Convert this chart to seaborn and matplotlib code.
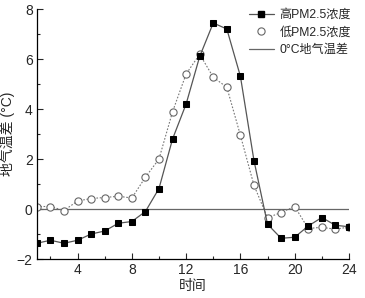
import seaborn as sns
import matplotlib.pyplot as plt
import pandas as pd
from matplotlib.lines import Line2D

hours = list(range(1, 25))
high_pm = [-1.36, -1.24, -1.36, -1.24, -0.99, -0.87, -0.56, -0.49, -0.09, 0.83,
           2.81, 4.21, 6.11, 7.45, 7.21, 5.32, 1.95, -0.60, -1.16, -1.12,
           -0.67, -0.33, -0.64, -0.70]
low_pm = [0.11, 0.11, -0.05, 0.33, 0.43, 0.47, 0.52, 0.45, 1.28, 2.01,
          3.90, 5.41, 6.20, 5.28, 4.88, 2.96, 0.96, -0.34, -0.13, 0.11,
          -0.77, -0.72, -0.80, -0.71]
labels = ['高PM2.5浓度', '低PM2.5浓度', '0°C地气温差']

df = pd.DataFrame({'hour': hours, 'high': high_pm, 'low': low_pm})

sns.set_style('white')
plt.rcParams['font.family'] = ['Liberation Sans', 'Noto Sans CJK SC', 'DejaVu Sans']

fig = plt.figure(figsize=(3.65, 2.98), dpi=100)
ax = fig.add_axes([0.101, 0.13, 0.855, 0.839])

ax.axhline(0, color='#666666', lw=0.9, zorder=1)

# low concentration: dotted line with hollow circles
sns.lineplot(x='hour', y='low', data=df, ax=ax, color='#777777', lw=0.8,
             linestyle=(0, (1.5, 1.5)), marker='o', markersize=5.2,
             markerfacecolor='white', markeredgecolor='#666666',
             markeredgewidth=0.8, zorder=2)

# high concentration: solid line with filled squares
sns.lineplot(x='hour', y='high', data=df, ax=ax, color='#555555', lw=0.9,
             marker='s', markersize=4.8, markerfacecolor='black',
             markeredgecolor='black', zorder=3)

ax.set_xlim(1, 24)
ax.set_ylim(-2, 8)
ax.set_xticks([4, 8, 12, 16, 20, 24])
ax.set_xticks(range(2, 25, 2), minor=True)
ax.set_yticks([-2, 0, 2, 4, 6, 8])
ax.set_yticks(range(-1, 8, 2), minor=True)
ax.tick_params(which='major', direction='in', length=4, width=0.8,
               labelsize=10, bottom=True, left=True, pad=3)
ax.tick_params(which='minor', direction='in', length=2, width=0.8,
               bottom=True, left=True)

for s in ['top', 'right']:
    ax.spines[s].set_visible(False)
for s in ['left', 'bottom']:
    ax.spines[s].set_color('black')
    ax.spines[s].set_linewidth(0.9)

ax.set_xlabel('时间', fontsize=10, labelpad=1)
ax.set_ylabel('地气温差 (°C)', fontsize=10, labelpad=1)

handles = [
    Line2D([], [], color='#555555', lw=0.9, marker='s', markersize=4.8,
           markerfacecolor='black', markeredgecolor='black'),
    Line2D([], [], color='none', marker='o', markersize=5.2,
           markerfacecolor='white', markeredgecolor='#666666', markeredgewidth=0.8),
    Line2D([], [], color='#666666', lw=0.9),
]
ax.legend(handles, labels, loc='upper right', bbox_to_anchor=(1.03, 1.03),
          frameon=False, fontsize=8.7, handlelength=2.0, handletextpad=0.5,
          labelspacing=0.45, borderaxespad=0.2)

fig.savefig('out.png', dpi=100)
